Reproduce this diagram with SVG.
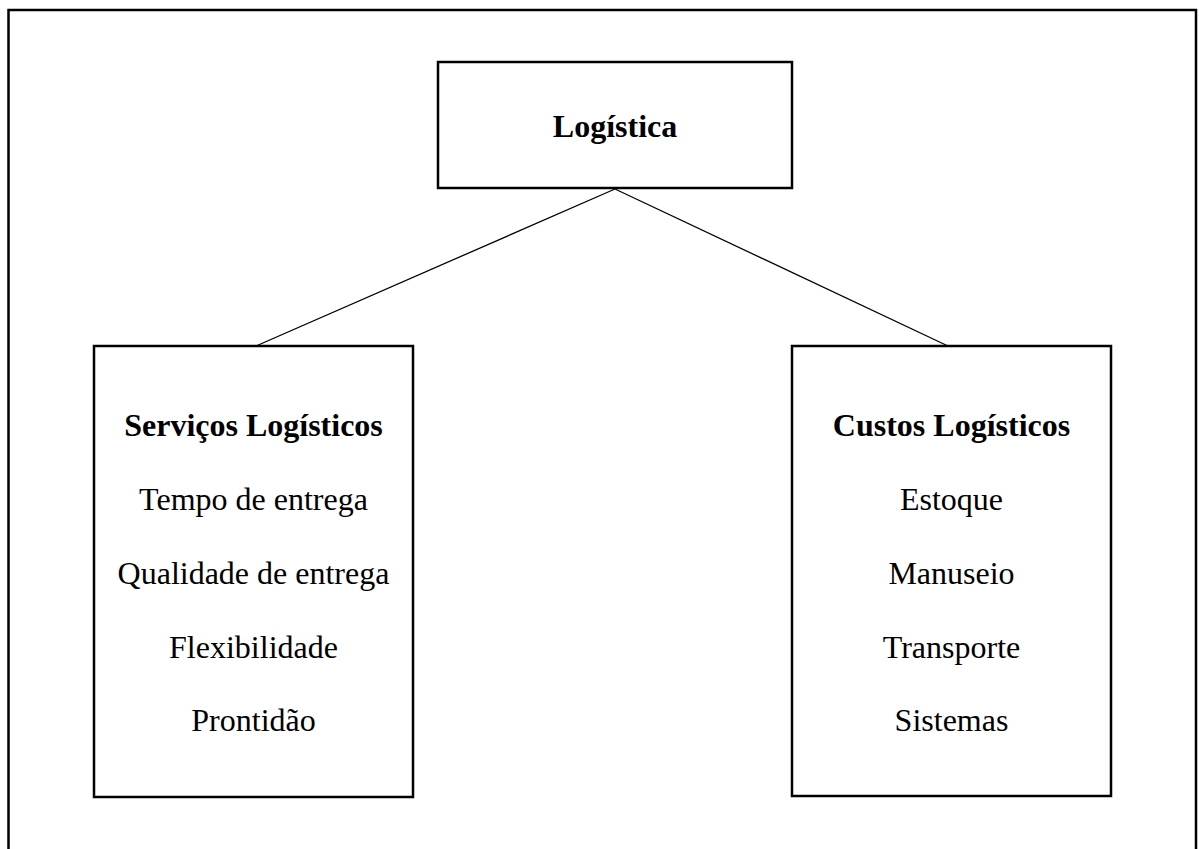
<svg xmlns="http://www.w3.org/2000/svg" width="1199" height="849" viewBox="0 0 1199 849">
<style>
.box{fill:#fff;stroke:#000;stroke-width:2.5}
.frame{fill:none;stroke:#000;stroke-width:2.5}
.conn{stroke:#000;stroke-width:1.3;fill:none}
text{font-family:"Liberation Serif","Times New Roman",serif;font-size:32px;fill:#000;text-anchor:middle}
.b{font-weight:bold}
</style>
<rect width="1199" height="849" fill="#fff"/>
<rect class="frame" x="8.5" y="10" width="1187.5" height="900"/>
<g id="connectors">
<line class="conn" x1="615" y1="189" x2="256" y2="346"/>
<line class="conn" x1="615" y1="189" x2="948" y2="346"/>
</g>
<g id="logistica">
<rect class="box" x="438" y="62" width="354" height="126"/>
<text class="b" x="615" y="137">Logística</text>
</g>
<g id="servicos">
<rect class="box" x="94" y="346" width="319" height="451"/>
<text class="b" x="253.5" y="436">Serviços Logísticos</text>
<text x="253.5" y="510">Tempo de entrega</text>
<text x="253.5" y="584">Qualidade de entrega</text>
<text x="253.5" y="658">Flexibilidade</text>
<text x="253.5" y="731">Prontidão</text>
</g>
<g id="custos">
<rect class="box" x="792" y="346" width="319" height="450"/>
<text class="b" x="951.5" y="436">Custos Logísticos</text>
<text x="951.5" y="510">Estoque</text>
<text x="951.5" y="584">Manuseio</text>
<text x="951.5" y="658">Transporte</text>
<text x="951.5" y="731">Sistemas</text>
</g>
</svg>
